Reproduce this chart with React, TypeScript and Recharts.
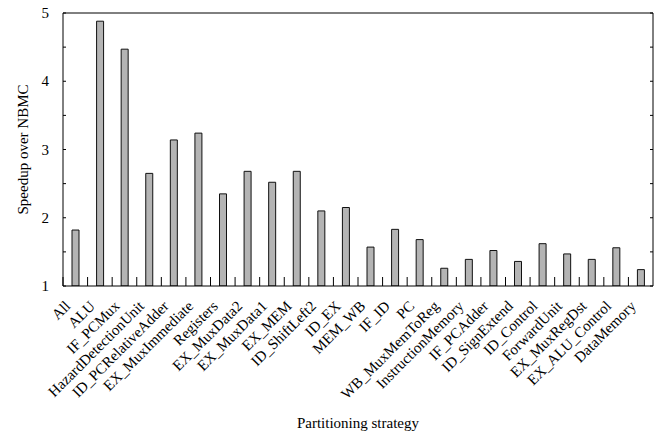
import { BarChart, Bar, XAxis, YAxis, ReferenceLine } from "recharts";

// partitioning strategies, in the order they appear on the x axis
const categories = [
  "All",
  "ALU",
  "IF_PCMux",
  "HazardDetectionUnit",
  "ID_PCRelativeAdder",
  "EX_MuxImmediate",
  "Registers",
  "EX_MuxData2",
  "EX_MuxData1",
  "EX_MEM",
  "ID_ShiftLeft2",
  "ID_EX",
  "MEM_WB",
  "IF_ID",
  "PC",
  "WB_MuxMemToReg",
  "InstructionMemory",
  "IF_PCAdder",
  "ID_SignExtend",
  "ID_Control",
  "ForwardUnit",
  "EX_MuxRegDst",
  "EX_ALU_Control",
  "DataMemory",
];

const speedups = [
  1.82, 4.88, 4.47, 2.65, 3.14, 3.24, 2.35, 2.68, 2.52, 2.68, 2.1, 2.15,
  1.57, 1.83, 1.68, 1.26, 1.39, 1.52, 1.36, 1.62, 1.47, 1.39, 1.56, 1.24,
];

const yTicks = [1, 1.5, 2, 2.5, 3, 3.5, 4, 4.5, 5];

const data = categories.map((name, i) => ({ name, speedup: speedups[i] }));

const W = 667;
const H = 439;
const PLOT_LEFT = 63;
const PLOT_RIGHT = 653;
const BAND = (PLOT_RIGHT - PLOT_LEFT) / categories.length;
const FONT = "'Liberation Serif', 'Times New Roman', serif";

// left axis: tick mark pointing inward + integer labels only
const LeftTick = (props: any) => {
  const { x, y, payload } = props;
  const v = payload.value;
  return (
    <g>
      <line x1={x} x2={x + 3} y1={y} y2={y} stroke="#000" />
      {Number.isInteger(v) && (
        <text
          x={x - 14}
          y={y}
          dy={5}
          textAnchor="end"
          fontSize={15}
          fontFamily={FONT}
          fill="#000"
        >
          {v}
        </text>
      )}
    </g>
  );
};

// right axis: only inward tick marks
const RightTick = (props: any) => {
  const { x, y } = props;
  return <line x1={x} x2={x - 3} y1={y} y2={y} stroke="#000" />;
};

// x axis: upward tick at each category boundary, rotated label
const BottomTick = (props: any) => {
  const { x, y, payload } = props;
  const bx = x - BAND / 2;
  const tx = x - 4;
  const ty = y + 21;
  return (
    <g>
      <line x1={bx} x2={bx} y1={y} y2={y - 9} stroke="#000" />
      <text
        x={tx}
        y={ty}
        transform={`rotate(-45 ${tx} ${ty})`}
        textAnchor="end"
        fontSize={15}
        fontFamily={FONT}
        fill="#000"
      >
        {payload.value}
      </text>
    </g>
  );
};

export default function App() {
  return (
    <div style={{ position: "absolute", left: 0, top: 0, background: "#fff" }}>
      <BarChart
        width={W}
        height={H}
        data={data}
        margin={{ top: 13, right: 4, left: 3, bottom: 8 }}
      >
        <XAxis
          dataKey="name"
          interval={0}
          height={145}
          tickLine={false}
          tickSize={0}
          tickMargin={0}
          axisLine={{ stroke: "#000" }}
          tick={<BottomTick />}
          label={{
            value: "Partitioning strategy",
            position: "insideBottom",
            offset: 3,
            fontSize: 15,
            fontFamily: FONT,
            fill: "#000",
          }}
        />
        <YAxis
          yAxisId="left"
          width={60}
          domain={[1, 5]}
          ticks={yTicks}
          allowDataOverflow
          tickLine={false}
          tickSize={0}
          tickMargin={0}
          axisLine={{ stroke: "#000" }}
          tick={<LeftTick />}
          label={{
            value: "Speedup over NBMC",
            angle: -90,
            position: "center",
            dx: -10,
            fontSize: 15,
            fontFamily: FONT,
            fill: "#000",
          }}
        />
        <YAxis
          yAxisId="right"
          orientation="right"
          width={10}
          domain={[1, 5]}
          ticks={yTicks}
          allowDataOverflow
          tickLine={false}
          tickSize={0}
          tickMargin={0}
          axisLine={{ stroke: "#000" }}
          tick={<RightTick />}
        />
        <ReferenceLine yAxisId="left" y={5} stroke="#000" />
        <Bar
          yAxisId="left"
          dataKey="speedup"
          barSize={7}
          fill="#b4b4b4"
          stroke="#111"
          strokeWidth={1}
          isAnimationActive={false}
        />
      </BarChart>
    </div>
  );
}
